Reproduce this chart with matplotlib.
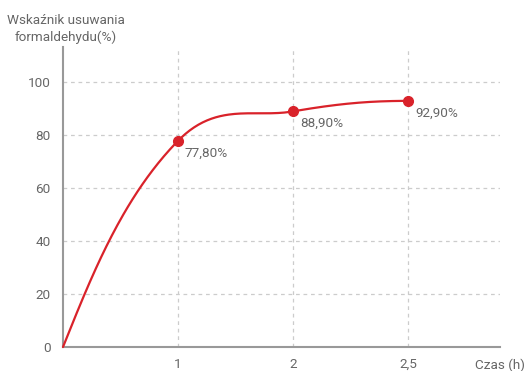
import numpy as np
import matplotlib
matplotlib.use("Agg")
import matplotlib.pyplot as plt

plt.rcParams['font.family'] = ['Roboto', 'DejaVu Sans']

# Data
times = ["0", "1", "2", "2,5"]
removal = [0.0, 77.8, 88.9, 92.9]
labels = ["77,80%", "88,90%", "92,90%"]
y_ticks = [0, 20, 40, 60, 80, 100]

RED = "#d9222a"
GREY_TXT = "#666666"
AXIS = "#999999"
GRID = "#cccccc"
FS = 9.7

fig = plt.figure(figsize=(5.28, 3.71), dpi=100)
ax = fig.add_axes([63/528, 1-347/371, (500-63)/528, (347-47)/371])
ax.set_xlim(0, 3.8)
ax.set_ylim(0, 113.2)

xs = np.arange(len(times), dtype=float)
ys = np.array(removal)

# Smooth curve through the points: cubic Bezier segments, control points
# taken from the neighbouring points (computed in pixel space)
fig.canvas.draw()
pts = ax.transData.transform(np.column_stack([xs, ys]))
smooth = 0.5
n = len(pts)
cp_in = [None] * n
cp_out = [None] * n
for i in range(1, n - 1):
    cur, prev, nxt = pts[i], pts[i-1], pts[i+1]
    v = (nxt - prev) * smooth
    d0 = np.hypot(*(cur - prev))
    d1 = np.hypot(*(cur - nxt))
    s = d0 + d1
    vin = v * d0 / s
    # keep the incoming handle within a third of the previous segment
    lin = np.hypot(*vin)
    if lin > d0 / 3:
        vin = vin * (d0 / 3) / lin
    cp_in[i] = cur - vin
    cp_out[i] = cur + v * d1 / s
# end points: handle aimed at the neighbour's control point
cp_out[0] = pts[0] + (cp_in[1] - pts[0]) * 0.5
cp_in[n-1] = pts[n-1] + (cp_out[n-2] - pts[n-1]) * 0.5

curve = []
t = np.linspace(0, 1, 80)[:, None]
for i in range(n - 1):
    p0, c1, c2, p3 = pts[i], cp_out[i], cp_in[i+1], pts[i+1]
    seg = (1-t)**3*p0 + 3*(1-t)**2*t*c1 + 3*(1-t)*t**2*c2 + t**3*p3
    curve.append(seg)
curve = np.vstack(curve)
curve_data = ax.transData.inverted().transform(curve)
ax.plot(curve_data[:, 0], curve_data[:, 1], color=RED, lw=1.6, zorder=3,
        clip_on=False, solid_capstyle='round')
ax.plot(xs[1:], ys[1:], 'o', color=RED, ms=7, zorder=4, clip_on=False)

for x, y, lab in zip(xs[1:], ys[1:], labels):
    ax.annotate(lab, (x, y), xytext=(5, -4), textcoords='offset points',
                ha='left', va='top', fontsize=FS, color=GREY_TXT)

# Grid
for y in y_ticks[1:]:
    ax.axhline(y, color=GRID, lw=0.9, ls=(0, (3, 3)), zorder=1)
for x in xs[1:]:
    ax.axvline(x, color=GRID, lw=0.9, ls=(0, (3, 3)), zorder=1)

for side in ['top', 'right']:
    ax.spines[side].set_visible(False)
for side in ['left', 'bottom']:
    ax.spines[side].set_color(AXIS)
    ax.spines[side].set_linewidth(1.5)

ax.set_yticks(y_ticks)
ax.set_yticklabels([str(v) for v in y_ticks])
ax.set_xticks(xs[1:])
ax.set_xticklabels(times[1:])
ax.tick_params(length=0, labelsize=FS, colors=GREY_TXT)
ax.tick_params(axis='y', pad=9)
ax.tick_params(axis='x', pad=8)

fig.text(66/528, 1-29/371, "Wskaźnik usuwania\nformaldehydu(%)", ha='center', va='center',
         fontsize=FS, color=GREY_TXT, linespacing=1.35)
fig.text(525/528, 1-365/371, "Czas (h)", ha='right', va='center', fontsize=FS, color=GREY_TXT)

fig.savefig("out.png", dpi=100)
